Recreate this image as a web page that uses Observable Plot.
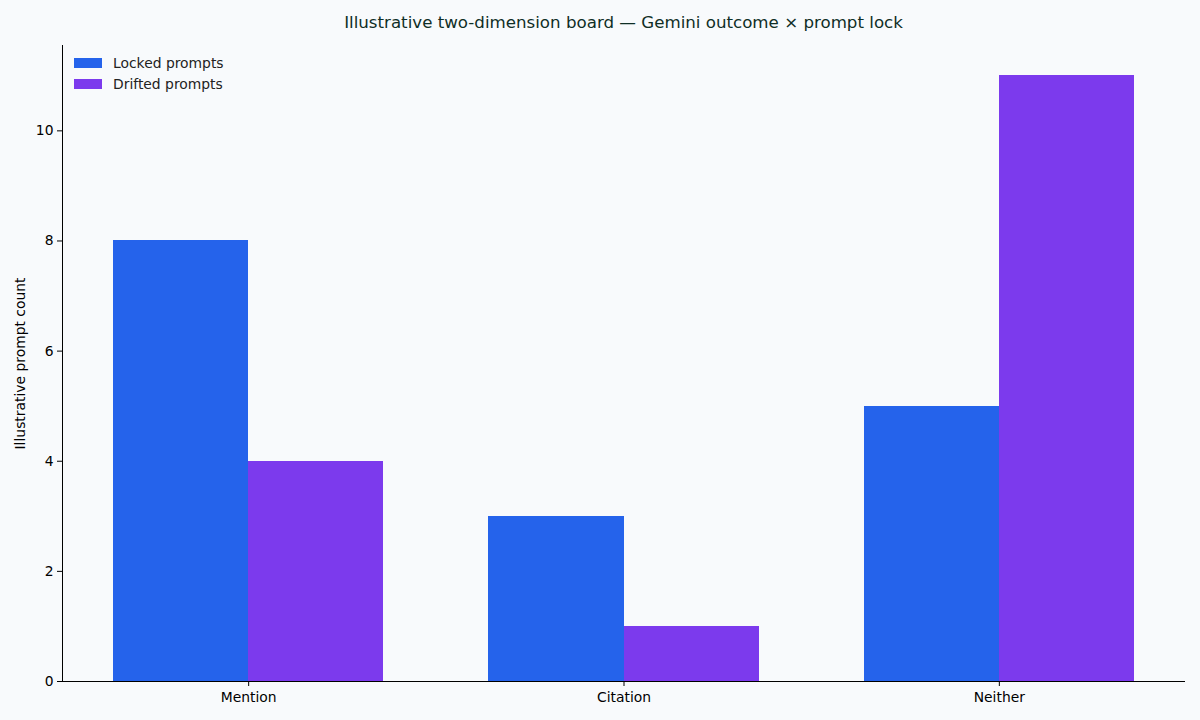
<!DOCTYPE html>
<html>
<head>
<meta charset="utf-8">
<script src="https://cdn.jsdelivr.net/npm/d3@7"></script>
<script src="https://cdn.jsdelivr.net/npm/@observablehq/plot@0.6"></script>
<style>
  html, body { margin: 0; padding: 0; background: #f8fafc; }
  #wrap { position: relative; width: 1200px; height: 720px; background: #f8fafc; font-family: "DejaVu Sans", sans-serif; }
  #title { position: absolute; left: 62px; top: 1px; width: 1123px; height: 45px; line-height: 44px; text-align: center; font-size: 16.67px; color: #0f2e26; white-space: nowrap; }
  #chart { position: absolute; left: 0; top: 45px; }
  #legend { position: absolute; left: 74px; top: 52px; font-size: 13.89px; color: #222; }
  .item { display: flex; align-items: center; height: 21px; }
  .sw { width: 28px; height: 10px; margin-right: 11px; }
</style>
</head>
<body>
<div id="wrap">
  <div id="title">Illustrative two-dimension board — Gemini outcome × prompt lock</div>
  <div id="chart"></div>
  <div id="legend"></div>
</div>
<script>
const categories = ["Mention", "Citation", "Neither"];
const seriesNames = ["Locked prompts", "Drifted prompts"];
const lockedValues = [8, 3, 5];
const driftedValues = [4, 1, 11];
const seriesColors = ["#2563eb", "#7c3aed"];
const yTicks = [0, 2, 4, 6, 8, 10];

const barWidth = 0.36;
const rows = [];
categories.forEach((c, i) => {
  rows.push({cat: c, i, series: seriesNames[0], value: lockedValues[i], x1: i - barWidth, x2: i});
  rows.push({cat: c, i, series: seriesNames[1], value: driftedValues[i], x1: i, x2: i + barWidth});
});
const span = categories.length - 1 + 2 * barWidth;
const xMin = -barWidth - 0.05 * span;
const xMax = categories.length - 1 + barWidth + 0.05 * span;
const yMax = d3.max([...lockedValues, ...driftedValues]) * 1.05;

const chart = Plot.plot({
  width: 1200,
  height: 675,
  marginLeft: 62,
  marginRight: 15,
  marginTop: 0,
  marginBottom: 39,
  style: {background: "transparent", fontFamily: "DejaVu Sans, sans-serif", fontSize: "13.89px", color: "#000"},
  x: {type: "linear", domain: [xMin, xMax]},
  y: {domain: [0, yMax]},
  color: {domain: seriesNames, range: seriesColors},
  marks: [
    Plot.rectY(rows, {x1: "x1", x2: "x2", y1: 0, y2: "value", fill: "series", shapeRendering: "crispEdges"}),
    Plot.ruleY([0], {stroke: "#000", strokeWidth: 1}),
    Plot.ruleX([xMin], {y1: 0, y2: yMax, stroke: "#000", strokeWidth: 1}),
    Plot.axisX({ticks: categories.map((c, i) => i), tickFormat: i => categories[i], tickSize: 5, tickPadding: 6, label: null, fontSize: 13.89}),
    Plot.axisY({ticks: yTicks, tickSize: 5, tickPadding: 4, label: "Illustrative prompt count", labelAnchor: "center", labelArrow: "none", labelOffset: 47, fontSize: 13.89})
  ]
});
document.getElementById("chart").appendChild(chart);

const legend = document.getElementById("legend");
seriesNames.forEach((n, k) => {
  const it = document.createElement("div");
  it.className = "item";
  it.innerHTML = `<div class="sw" style="background:${seriesColors[k]}"></div><span>${n}</span>`;
  legend.appendChild(it);
});
</script>
</body>
</html>
